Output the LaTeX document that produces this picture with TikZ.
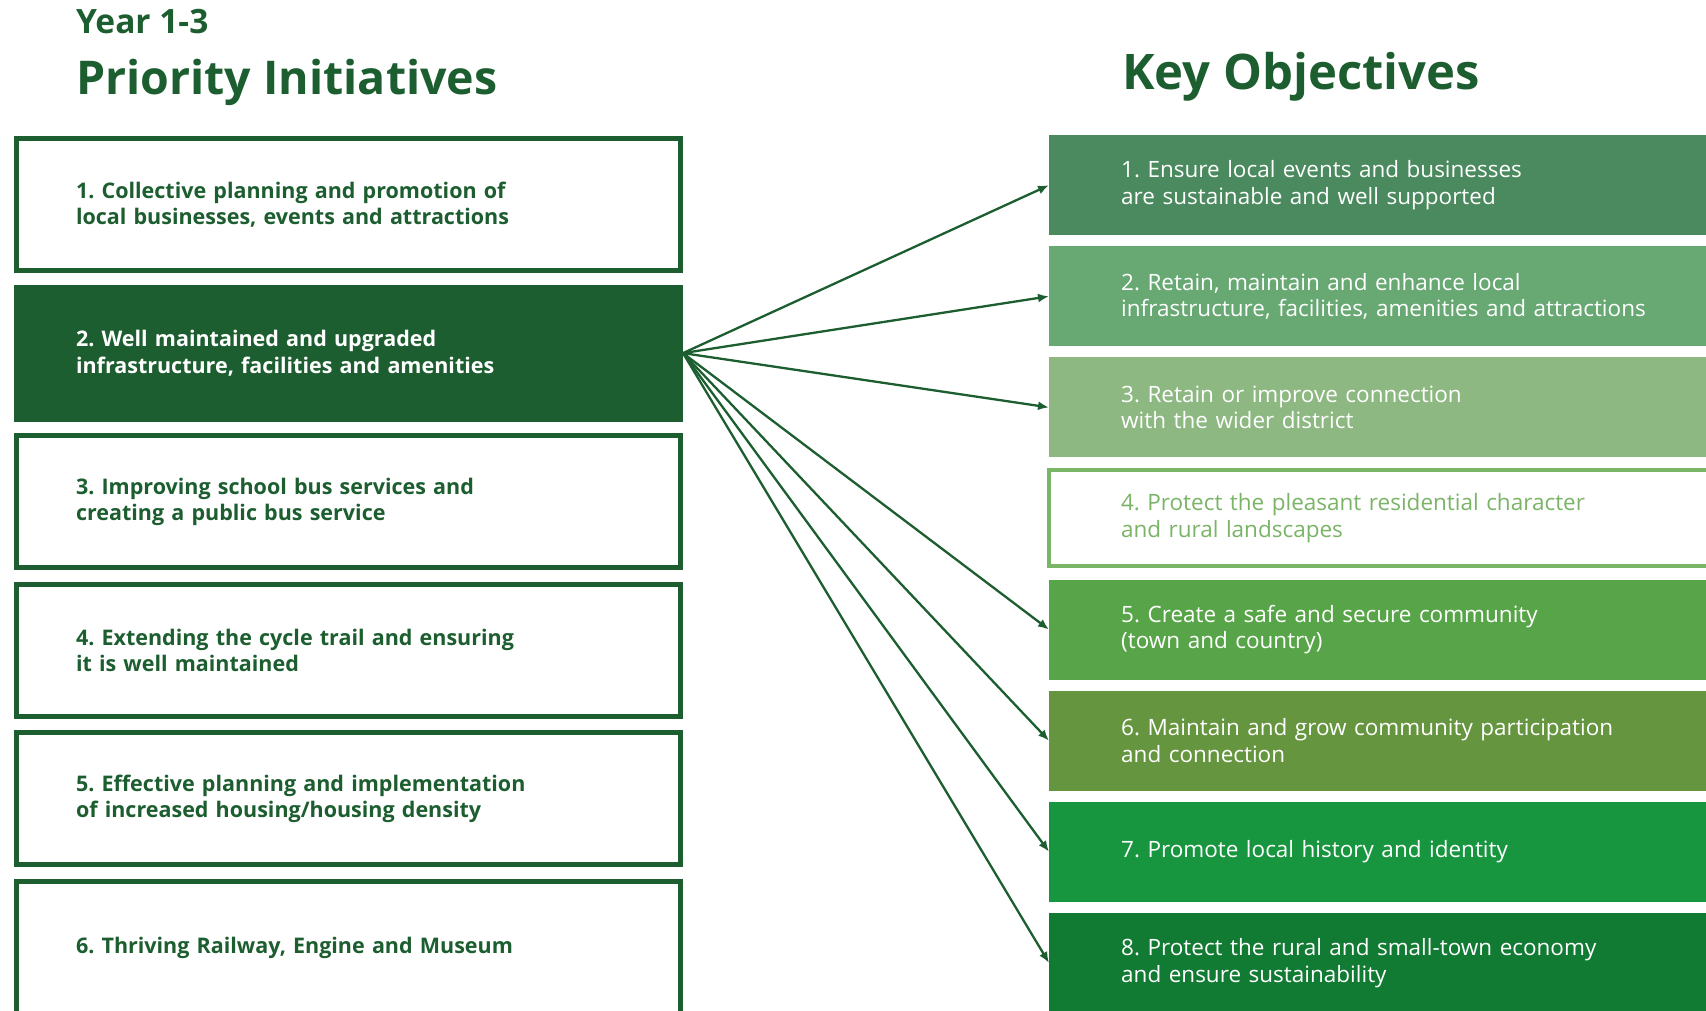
\documentclass[tikz,border=0pt]{standalone}
\usepackage{fontspec}
\setmainfont{Open Sans}
\usetikzlibrary{arrows.meta}
\frenchspacing

\definecolor{darkgreen}{HTML}{1C5E2F}
\definecolor{obja}{HTML}{4A8A5E}
\definecolor{objb}{HTML}{67A873}
\definecolor{objc}{HTML}{8DB882}
\definecolor{objd}{HTML}{7AB466}
\definecolor{obje}{HTML}{57A548}
\definecolor{objf}{HTML}{66953F}
\definecolor{objg}{HTML}{17963F}
\definecolor{objh}{HTML}{117A33}

\tikzset{
    heading/.style={anchor=base west, inner sep=0pt, text=darkgreen},
    initbox/.style={draw=darkgreen, line width=5pt, fill=white, text=darkgreen,
        anchor=north west, minimum width=664pt, minimum height=132pt,
        inner xsep=59.5pt, text width=545pt, align=left,
        font=\fontsize{21.5}{26.5}\selectfont\bfseries},
    objbox/.style={anchor=north west, minimum width=720pt, minimum height=100pt,
        inner xsep=72pt, text width=576pt, align=left, text=white,
        font=\fontsize{22.5}{26.5}\selectfont},
    link/.style={draw=darkgreen, line width=2.3pt, -{Latex[length=11pt,width=9pt]}}
}

\begin{document}
\begin{tikzpicture}[x=1pt,y=-1pt]
        \useasboundingbox (0,0) rectangle (1706,1010);

        \node[heading, font=\fontsize{33.5}{33.5}\selectfont\bfseries] (year) at (76,33) {Year 1-3};
        \node[heading, font=\fontsize{46.5}{46.5}\selectfont\bfseries] (prio) at (76,94) {Priority Initiatives};
        \node[heading, font=\fontsize{49}{49}\selectfont\bfseries] (keyobj) at (1122,89) {Key Objectives};

        \foreach \i/\txt in {1/{1. Collective planning and promotion of\\local businesses, events and attractions},
                             3/{3. Improving school bus services and\\creating a public bus service},
                             4/{4. Extending the cycle trail and ensuring\\it is well maintained},
                             5/{5. Effective planning and implementation\\of increased housing/housing density},
                             6/{6. Thriving Railway, Engine and Museum}}
            {
                \node[initbox] (l\i) at (14, {136+148.6*(\i-1)}) {\txt};
            }
        \node[initbox, fill=darkgreen, text=white] (l2) at (14, 284.6)
            {2. Well maintained and upgraded\\infrastructure, facilities and amenities};

        \foreach \i/\col/\txt in {1/obja/{1. Ensure local events and businesses\\are sustainable and well supported},
                                  2/objb/{2. Retain, maintain and enhance local\\infrastructure, facilities, amenities and attractions},
                                  3/objc/{3. Retain or improve connection\\with the wider district},
                                  5/obje/{5. Create a safe and secure community\\(town and country)},
                                  6/objf/{6. Maintain and grow community participation\\and connection},
                                  7/objg/{7. Promote local history and identity},
                                  8/objh/{8. Protect the rural and small-town economy\\and ensure sustainability}}
            {
                \node[objbox, fill=\col] (r\i) at (1049, {135+111.1*(\i-1)}) {\txt};
            }
        \node[objbox, draw=objd, line width=4pt, fill=white, text=objd, minimum height=96pt] (r4) at (1047, 468.3)
            {4. Protect the pleasant residential character\\and rural landscapes};

        \foreach \j in {1,2,3,5,6,7,8}
            {
                \draw[link] (l2.east) -- (r\j.west);
            }
    \end{tikzpicture}
\end{document}
